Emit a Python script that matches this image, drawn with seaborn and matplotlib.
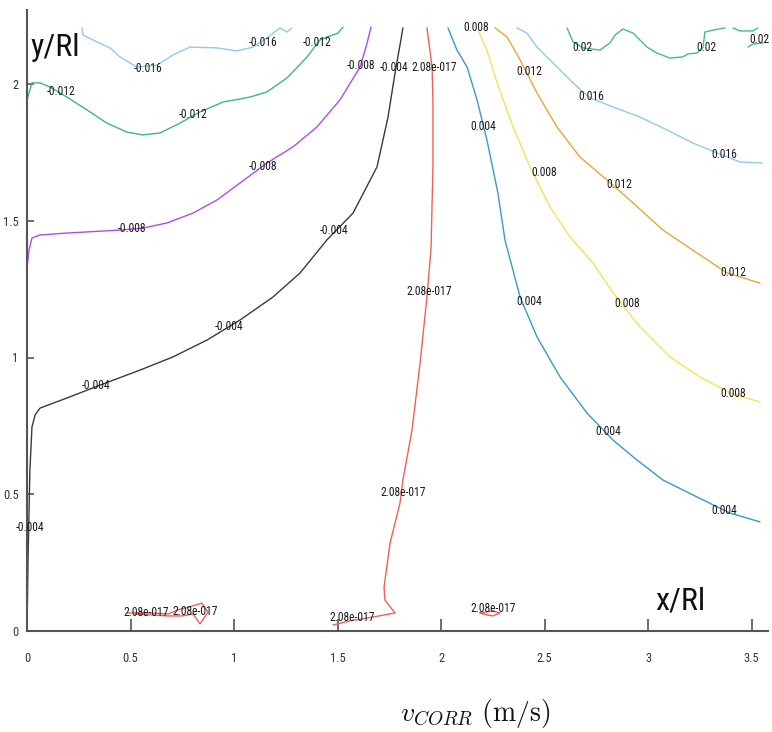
import numpy as np
import pandas as pd
import matplotlib
matplotlib.use("Agg")
import matplotlib.pyplot as plt
from matplotlib import font_manager
import seaborn as sns

# ---------------- data: contour lines (x/Rl, y/Rl) ----------------
neg016_x = [0.266, 0.271, 0.338, 0.401, 0.449, 0.531, 0.628, 0.705, 0.787, 0.918, 1.014, 1.092, 1.159, 1.222, 1.256, 1.280]
neg016_y = [2.205, 2.179, 2.154, 2.132, 2.099, 2.062, 2.069, 2.106, 2.135, 2.132, 2.121, 2.135, 2.168, 2.205, 2.190, 2.205]

neg012_x = [0.0, 0.0, 0.024, 0.063, 0.111, 0.193, 0.290, 0.386, 0.483, 0.560, 0.643, 0.739, 0.836, 0.947, 1.077, 1.159, 1.256, 1.353, 1.415, 1.464, 1.502, 1.527]
neg012_y = [1.784, 1.942, 2.004, 2.004, 1.989, 1.952, 1.905, 1.857, 1.824, 1.814, 1.821, 1.857, 1.898, 1.934, 1.952, 1.971, 2.022, 2.099, 2.161, 2.176, 2.186, 2.208]

neg008_x = [0.0, 0.010, 0.024, 0.063, 0.193, 0.449, 0.560, 0.676, 0.802, 0.918, 1.029, 1.159, 1.285, 1.401, 1.512, 1.609, 1.643, 1.662]
neg008_y = [1.331, 1.393, 1.437, 1.448, 1.455, 1.466, 1.473, 1.492, 1.528, 1.576, 1.638, 1.711, 1.770, 1.843, 1.942, 2.062, 2.150, 2.208]

neg004_x = [0.0, 0.005, 0.014, 0.024, 0.039, 0.063, 0.193, 0.353, 0.546, 0.705, 0.870, 1.029, 1.188, 1.319, 1.449, 1.575, 1.691, 1.744, 1.778, 1.802, 1.816]
neg004_y = [0.0, 0.260, 0.589, 0.746, 0.790, 0.815, 0.852, 0.899, 0.954, 1.002, 1.064, 1.137, 1.221, 1.309, 1.430, 1.528, 1.697, 1.879, 2.040, 2.143, 2.205]

zero_x = [1.932, 1.957, 1.961, 1.961, 1.952, 1.932, 1.899, 1.860, 1.816, 1.802, 1.754, 1.725, 1.729, 1.778, 1.671, 1.560, 1.478]
zero_y = [2.205, 2.062, 1.942, 1.697, 1.400, 1.221, 0.980, 0.735, 0.552, 0.468, 0.322, 0.161, 0.113, 0.066, 0.051, 0.037, 0.022]

zero_loop1_x = [0.483, 0.594, 0.681, 0.729, 0.797, 0.845, 0.874, 0.836, 0.802, 0.749, 0.681, 0.594, 0.522]
zero_loop1_y = [0.066, 0.066, 0.062, 0.077, 0.091, 0.102, 0.069, 0.026, 0.062, 0.055, 0.055, 0.059, 0.062]

zero_loop2_x = [2.188, 2.222, 2.251, 2.285, 2.251, 2.213, 2.188]
zero_loop2_y = [0.066, 0.059, 0.055, 0.066, 0.073, 0.069, 0.066]

pos004_x = [2.034, 2.077, 2.126, 2.174, 2.222, 2.275, 2.309, 2.382, 2.464, 2.575, 2.705, 2.831, 2.947, 3.072, 3.237, 3.396, 3.541]
pos004_y = [2.205, 2.124, 2.062, 1.942, 1.795, 1.601, 1.430, 1.221, 1.075, 0.929, 0.797, 0.698, 0.625, 0.552, 0.490, 0.431, 0.399]

pos008_x = [2.179, 2.222, 2.271, 2.348, 2.430, 2.527, 2.623, 2.734, 2.831, 2.961, 3.106, 3.251, 3.396, 3.541]
pos008_y = [2.197, 2.124, 2.004, 1.843, 1.697, 1.550, 1.441, 1.346, 1.236, 1.112, 1.002, 0.929, 0.870, 0.837]

pos012_x = [2.261, 2.319, 2.382, 2.464, 2.560, 2.671, 2.802, 2.928, 3.072, 3.237, 3.382, 3.541]
pos012_y = [2.205, 2.172, 2.088, 1.967, 1.843, 1.733, 1.649, 1.565, 1.466, 1.382, 1.309, 1.272]

pos016_x = [2.367, 2.415, 2.464, 2.541, 2.638, 2.720, 2.831, 2.961, 3.092, 3.217, 3.333, 3.444, 3.551]
pos016_y = [2.205, 2.186, 2.135, 2.077, 2.004, 1.949, 1.916, 1.879, 1.832, 1.784, 1.748, 1.715, 1.711]

pos020a_x = [2.609, 2.638, 2.686, 2.768, 2.816, 2.841, 2.879, 2.928, 2.995, 3.043, 3.106, 3.169, 3.193, 3.237, 3.266, 3.275, 3.314, 3.372]
pos020a_y = [2.205, 2.154, 2.132, 2.124, 2.150, 2.179, 2.201, 2.186, 2.135, 2.113, 2.095, 2.099, 2.110, 2.113, 2.135, 2.190, 2.197, 2.205]
pos020b_x = [3.411, 3.444, 3.507, 3.531]
pos020b_y = [2.205, 2.194, 2.194, 2.205]
pos020c_x = [3.483, 3.507, 3.556]
pos020c_y = [2.135, 2.146, 2.150]

# contour label texts and where they sit (data coords)
label_text = ["-0.016", "-0.016",
              "-0.012", "-0.012", "-0.012",
              "-0.008", "-0.008", "-0.008",
              "-0.004", "-0.004", "-0.004", "-0.004", "-0.004",
              "2.08e-017", "2.08e-017", "2.08e-017", "2.08e-017", "2.08e-017", "2.08e-017", "2.08e-017",
              "0.004", "0.004", "0.004", "0.004",
              "0.008", "0.008", "0.008", "0.008",
              "0.012", "0.012", "0.012",
              "0.016", "0.016",
              "0.02", "0.02", "0.02"]
label_x = [0.585, 1.140,
           0.164, 0.802, 1.401,
           0.507, 1.140, 1.614,
           0.014, 0.333, 0.976, 1.483, 1.774,
           1.966, 1.942, 1.816, 1.570, 0.575, 0.812, 2.251,
           2.203, 2.425, 2.807, 3.367,
           2.169, 2.498, 2.899, 3.411,
           2.425, 2.860, 3.411,
           2.725, 3.367,
           2.681, 3.280, 3.536]
label_y = [2.058, 2.150,
           1.974, 1.887, 2.150,
           1.473, 1.700, 2.066,
           0.377, 0.896, 1.112, 1.463, 2.062,
           2.062, 1.243, 0.508, 0.048, 0.069, 0.072, 0.084,
           1.846, 1.203, 0.728, 0.442,
           2.205, 1.675, 1.199, 0.870,
           2.044, 1.634, 1.309,
           1.956, 1.744,
           2.135, 2.135, 2.161]

x_ticks = [0, 0.5, 1, 1.5, 2, 2.5, 3, 3.5]
x_tick_labels = ["0", "0.5", "1", "1.5", "2", "2.5", "3", "3.5"]
y_ticks = [0, 0.5, 1, 1.5, 2]
y_tick_labels = ["0", "0.5", "1", "1.5", "2"]

segments = [
    ("neg016", neg016_x, neg016_y),
    ("neg012", neg012_x, neg012_y),
    ("neg008", neg008_x, neg008_y),
    ("neg004", neg004_x, neg004_y),
    ("zero", zero_x, zero_y),
    ("zero_l1", zero_loop1_x, zero_loop1_y),
    ("zero_l2", zero_loop2_x, zero_loop2_y),
    ("pos004", pos004_x, pos004_y),
    ("pos008", pos008_x, pos008_y),
    ("pos012", pos012_x, pos012_y),
    ("pos016", pos016_x, pos016_y),
    ("pos020a", pos020a_x, pos020a_y),
    ("pos020b", pos020b_x, pos020b_y),
    ("pos020c", pos020c_x, pos020c_y),
]
palette = {
    "neg016": "#8fcbea", "neg012": "#3db58c", "neg008": "#b24ce6", "neg004": "#3a3a3a",
    "zero": "#f0605a", "zero_l1": "#f0605a", "zero_l2": "#f0605a",
    "pos004": "#3d97cc", "pos008": "#f4e25a", "pos012": "#e9a638", "pos016": "#8fcbea",
    "pos020a": "#45bb90", "pos020b": "#45bb90", "pos020c": "#45bb90",
}

rows = []
for name, xs, ys in segments:
    for i, (a, b) in enumerate(zip(xs, ys)):
        rows.append({"seg": name, "order": i, "x": a, "y": b})
df = pd.DataFrame(rows)

# ---------------- fonts: prefer a narrow face if one is installed ----------------
installed = {f.name for f in font_manager.fontManager.ttflist}
narrow_face = None
for cand in ["Liberation Sans Narrow", "Roboto Condensed", "Open Sans Condensed", "DejaVu Sans Condensed"]:
    if cand in installed:
        narrow_face = cand
        break
if narrow_face is not None:
    small_font = {"family": [narrow_face, "DejaVu Sans"]}
    lab_size, tick_size, big_size = 8.4, 9.0, 23
else:
    small_font = {"family": ["Liberation Sans", "DejaVu Sans"]}
    lab_size, tick_size, big_size = 7.0, 8.0, 19

# ---------------- plot ----------------
sns.set_theme(style="white")
plt.rcParams["mathtext.fontset"] = "cm"

fig = plt.figure(figsize=(7.72, 7.32), dpi=100)
ax = fig.add_axes([27 / 772, 1 - 631 / 732, (768 - 27) / 772, (631 - 10) / 732])

sns.lineplot(data=df, x="x", y="y", hue="seg", units="seg", estimator=None,
             sort=False, palette=palette, linewidth=1.0, legend=False, ax=ax)

for t, lx, ly in zip(label_text, label_x, label_y):
    ax.text(lx, ly, t, fontsize=lab_size, color="#1a1a1a",
            ha="center", va="center", **small_font)

ax.set_xlim(0, (768 - 27) / 207)
ax.set_ylim(0, (631 - 10) / 273.5)
ax.set_xticks(x_ticks)
ax.set_xticklabels(x_tick_labels, fontsize=tick_size, color="#333333", **small_font)
ax.set_yticks(y_ticks)
ax.set_yticklabels(y_tick_labels, fontsize=tick_size, color="#333333", **small_font)
ax.tick_params(axis="x", direction="in", length=9, width=1.2, color="#555555", pad=15, bottom=True)
ax.tick_params(axis="y", direction="in", length=5, width=1.2, color="#555555", pad=6, left=True)
ax.set_xlabel("")
ax.set_ylabel("")

for side in ["top", "right"]:
    ax.spines[side].set_visible(False)
for side in ["left", "bottom"]:
    ax.spines[side].set_color("#555555")
    ax.spines[side].set_linewidth(1.5)

fig.text(30 / 772, 1 - 47 / 732, "y/Rl", fontsize=big_size, color="#111111",
         ha="left", va="center", **small_font)
fig.text(655 / 772, 1 - 601 / 732, "x/Rl", fontsize=big_size, color="#111111",
         ha="left", va="center", **small_font)
fig.text(475 / 772, 1 - 713 / 732, r"$v_{CORR}\ \mathrm{(m/s)}$", fontsize=20,
         color="#111111", ha="center", va="center")

fig.savefig("out.png", dpi=100, facecolor="white")
